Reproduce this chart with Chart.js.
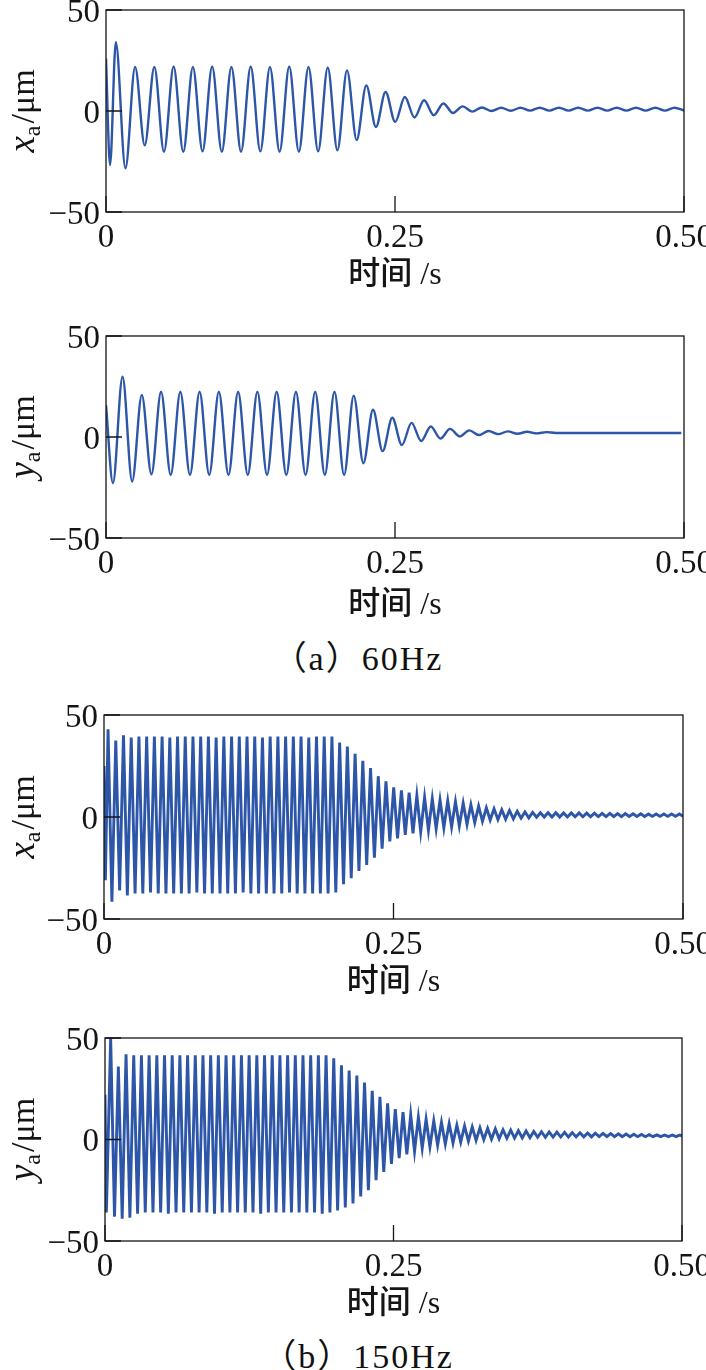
<!DOCTYPE html>
<html>
<head>
<meta charset="utf-8">
<script src="https://cdn.jsdelivr.net/npm/chart.js@4.4.1/dist/chart.umd.min.js"></script>
<style>
  body { margin: 0; background: #fff; width: 706px; height: 1370px; overflow: hidden; position: relative; }
  canvas { position: absolute; left: 0; }
  .cap { position: absolute; left: 0; width: 716px; text-align: center; color: #111; letter-spacing: 2px;
         font: 34px "Liberation Serif", "Noto Sans CJK SC"; line-height: 34px; }
</style>
</head>
<body>
<canvas id="c1" width="706" height="300" style="top:0px"></canvas>
<canvas id="c2" width="706" height="310" style="top:320px"></canvas>
<div class="cap" style="top:642px">（a）60Hz</div>
<canvas id="c3" width="706" height="320" style="top:690px"></canvas>
<canvas id="c4" width="706" height="310" style="top:1020px"></canvas>
<div class="cap" style="top:1340px">（b）150Hz</div>
<script>
// tick labels
const xTickLabels = ['0', '0.25', '0.50'];
const yTickLabels = ['\u221250', '0', '50'];
const xTitle = '时间 /s';

// 60 Hz, x_a: start-up points, then one extreme every half period (1/120 s)
const xa60LeadT = [0, 0.0035];
const xa60LeadV = [26, -26.8];
const xa60Start = 0.0085;
const xa60Step = 1 / 120;
const xa60Peaks = [
  34, -28.4, 21.8, -17, 21.8, -20.2, 22, -20.2, 21.8, -20,
  22, -20.2, 21.8, -20.2, 22, -20, 21.8, -20.2, 22, -20.2,
  21.8, -20, 21.5, -19.5, 20.1, -14.4, 12.7, -7.9, 9.4, -5.4,
  6.9, -3.2, 5.3, -2.1, 3.7, -1, 2.3, -0.3, 1.7, 0,
  1.6, 0.1, 1.6, 0.2, 1.6, 0.2, 1.6, 0.2, 1.6, 0.2,
  1.6, 0.2, 1.6, 0.2, 1.6, 0.2, 1.6, 0.2, 1.6, 0.2
];

// 60 Hz, y_a
const ya60LeadT = [0, 0.006];
const ya60LeadV = [15.8, -22.8];
const ya60Start = 0.0143;
const ya60Step = 1 / 120;
const ya60Peaks = [
  29.8, -22, 20.8, -18.5, 22.4, -18.8, 22.4, -18.8, 22.4, -18.8,
  22.4, -18.8, 22.4, -18.8, 22.4, -18.8, 22.4, -18.8, 22.4, -18.8,
  22.4, -18.8, 22.4, -18.8, 20.5, -13, 13.5, -7, 9.5, -4,
  7, -2, 5.2, -0.8, 4, 0.3, 3.3, 1, 3, 1.4,
  2.8, 1.6, 2.6, 1.8, 2.4, 2, 2, 2, 2, 2,
  2, 2, 2, 2, 2, 2, 2, 2, 2
];

// 150 Hz, x_a: one extreme every half period (1/300 s)
const xa150LeadT = [0, 0.0012];
const xa150LeadV = [25, -31];
const xa150Start = 0.0035;
const xa150Step = 1 / 300;
const xa150Peaks = [
  43, -41.5, 37.5, -36, 40, -38.5, 39, -37.5, 39.5, -37.5,
  39.5, -37, 39.5, -37.5, 39.5, -37.5, 39, -37.5, 39.5, -37.5,
  39.5, -37.5, 39.5, -37, 39.5, -37.5, 39.5, -37.5, 39, -37.5,
  39.5, -37.5, 39.5, -37.5, 39.5, -37, 39.5, -37.5, 39.5, -37.5,
  39, -37.5, 39.5, -37.5, 39.5, -37.5, 39.5, -37, 39.5, -37.5,
  39.5, -37.5, 39, -37.5, 39.5, -37.5, 39.5, -37.5, 39.5, -37,
  36.5, -33, 34.5, -30, 31, -26.5, 27.5, -23.5, 24, -20,
  20, -15.5, 17.5, -12, 14.5, -10.5, 13, -8.8, 12, -8,
  10.5, -7.3, 9.7, -6.5, 9, -5.8, 8.3, -5.3, 7.9, -4.9,
  7.5, -4.4, 6.8, -3.6, 6, -2.8, 5.3, -2.1, 4.5, -1.5,
  4, -1.3, 3.6, -1.1, 3.2, -0.9, 2.8, -0.6, 2.5, -0.4,
  2.3, -0.1, 2.1, 0, 2.1, 0, 2.1, 0, 2, 0,
  2, 0.1, 2, 0.1, 1.9, 0.1, 1.9, 0.2, 1.8, 0.2,
  1.8, 0.2, 1.7, 0.2, 1.7, 0.3, 1.6, 0.3, 1.6, 0.3,
  1.5, 0.3, 1.5, 0.3, 1.5, 0.3, 1.5, 0.3, 1.5, 0.3
];

// 150 Hz, y_a
const ya150LeadT = [0, 0.0012];
const ya150LeadV = [22, -36];
const ya150Start = 0.0049;
const ya150Step = 1 / 300;
const ya150Peaks = [
  50, -38, 36, -39, 42, -38.5, 41.5, -36.5, 41.5, -36,
  41.5, -36, 41.5, -36, 41.5, -36.5, 41.5, -36, 41.5, -36,
  41.5, -36, 41.5, -36, 41.5, -36, 41.5, -36.5, 41.5, -36,
  41.5, -36, 41.5, -36, 41.5, -36, 41.5, -36, 41.5, -36.5,
  41.5, -36, 41.5, -36, 41.5, -36, 41.5, -36, 41.5, -36,
  41.5, -36, 41.5, -36, 41.5, -36.5, 41.5, -36, 40, -35,
  36.5, -33.5, 34, -31.5, 31.5, -28, 28, -25, 24, -20,
  21, -16, 17.8, -12, 15, -9.2, 13.5, -7.3, 12.2, -5.8,
  11, -4.3, 10, -3.6, 9.2, -2.8, 8.5, -2.3, 7.8, -1.8,
  7, -1.3, 6.6, -0.8, 6.2, -0.4, 5.8, -0.1, 5.5, 0.1,
  5.2, 0.3, 4.8, 0.6, 4.6, 0.7, 4.4, 0.8, 4.2, 0.9,
  4, 1.1, 3.8, 1.1, 3.7, 1.2, 3.6, 1.2, 3.5, 1.2,
  3.4, 1.3, 3.3, 1.3, 3.2, 1.3, 3.1, 1.4, 3, 1.4,
  2.9, 1.4, 2.8, 1.4, 2.7, 1.4, 2.6, 1.4, 2.5, 1.4,
  2.4, 1.4, 2.3, 1.4, 2.2, 1.4, 2.2, 1.4, 2.2, 1.4
];

const lineColor = '#2d56a8';
const inkColor = '#151515';

// lead-in points plus evenly spaced extremes -> {x, y} points
function toPoints(leadT, leadV, start, step, peaks) {
  const pts = leadT.map((t, i) => ({ x: t, y: leadV[i] }));
  peaks.forEach((v, k) => pts.push({ x: start + k * step, y: v }));
  return pts;
}

// box, inward ticks and the y title (italic letter + subscript a)
const framePlugin = {
  id: 'frame',
  afterDatasetsDraw(chart, args, opts) {
    const { ctx, chartArea: a, scales: { x, y } } = chart;
    ctx.save();
    ctx.strokeStyle = inkColor;
    ctx.lineWidth = 1.3;
    ctx.strokeRect(a.left, a.top, a.right - a.left, a.bottom - a.top);
    ctx.beginPath();
    y.ticks.forEach(t => {
      const p = y.getPixelForValue(t.value);
      ctx.moveTo(a.left, p); ctx.lineTo(a.left + 16, p);
    });
    x.ticks.forEach(t => {
      const p = x.getPixelForValue(t.value);
      ctx.moveTo(p, a.bottom); ctx.lineTo(p, a.bottom - 16);
    });
    ctx.stroke();

    const cy = (a.top + a.bottom) / 2;
    ctx.translate(opts.titleX, cy);
    ctx.rotate(-Math.PI / 2);
    ctx.fillStyle = inkColor;
    ctx.textBaseline = 'alphabetic';
    const fVar = 'italic 37px "Liberation Serif"';
    const fSub = '24px "Liberation Serif"';
    const fUnit = '34px "Liberation Serif"';
    ctx.font = fVar; const w1 = ctx.measureText(opts.v).width;
    ctx.font = fSub; const w2 = ctx.measureText('a').width;
    ctx.font = fUnit; const w3 = ctx.measureText('/\u03bcm').width;
    let px = -(w1 + w2 + w3 + 2) / 2;
    ctx.font = fVar; ctx.fillText(opts.v, px, 0); px += w1;
    ctx.font = fSub; ctx.fillText('a', px, 6); px += w2 + 2;
    ctx.font = fUnit; ctx.fillText('/\u03bcm', px, 0);
    ctx.restore();
  }
};

function makePanel(id, g, v, pts, smooth) {
  const xh = g.canvasTop + g.h - g.bottom;
  const titlePad = g.canvasTop + g.h - g.title - 19.2;
  new Chart(document.getElementById(id), {
    type: 'line',
    data: {
      datasets: [{
        data: pts,
        borderColor: lineColor,
        borderWidth: smooth ? 2.4 : 2.9,
        pointRadius: 0,
        fill: false,
        tension: 0,
        cubicInterpolationMode: smooth ? 'monotone' : 'default'
      }]
    },
    options: {
      responsive: false,
      animation: false,
      devicePixelRatio: 1,
      layout: { padding: { top: g.top - g.canvasTop, right: 706 - g.right, left: 0, bottom: 0 } },
      plugins: {
        legend: { display: false },
        tooltip: { enabled: false },
        frame: { v: v, titleX: 34 }
      },
      scales: {
        x: {
          type: 'linear', min: 0, max: 0.5,
          grid: { display: false, drawTicks: false },
          border: { display: false },
          ticks: {
            stepSize: 0.25, padding: 7, maxRotation: 0, autoSkip: false, color: inkColor,
            font: { family: '"Liberation Serif"', size: 33 },
            callback: (val, i) => xTickLabels[i]
          },
          title: {
            display: true, text: xTitle, color: inkColor,
            font: { family: '"Liberation Serif", "Noto Sans CJK SC"', size: 32, weight: '500' },
            padding: { top: 0, bottom: titlePad }
          },
          afterFit: s => { s.height = xh; s.paddingLeft = 0; s.paddingRight = 0; }
        },
        y: {
          type: 'linear', min: -50, max: 50,
          grid: { display: false, drawTicks: false },
          border: { display: false },
          ticks: {
            stepSize: 50, padding: 6, labelOffset: 3, color: inkColor,
            font: { family: '"Liberation Serif"', size: 33 },
            callback: (val, i) => yTickLabels[i]
          },
          afterFit: s => { s.width = g.left; s.paddingTop = 0; s.paddingBottom = 0; }
        }
      }
    },
    plugins: [framePlugin]
  });
}

makePanel('c1', { canvasTop: 0, h: 300, top: 10, bottom: 212, left: 106, right: 684, title: 276 }, 'x',
  toPoints(xa60LeadT, xa60LeadV, xa60Start, xa60Step, xa60Peaks), true);
makePanel('c2', { canvasTop: 320, h: 310, top: 336, bottom: 538, left: 106, right: 684, title: 606 }, 'y',
  toPoints(ya60LeadT, ya60LeadV, ya60Start, ya60Step, ya60Peaks), true);
makePanel('c3', { canvasTop: 690, h: 320, top: 715, bottom: 919, left: 104, right: 683, title: 983 }, 'x',
  toPoints(xa150LeadT, xa150LeadV, xa150Start, xa150Step, xa150Peaks), false);
makePanel('c4', { canvasTop: 1020, h: 310, top: 1038, bottom: 1241, left: 105, right: 682, title: 1305 }, 'y',
  toPoints(ya150LeadT, ya150LeadV, ya150Start, ya150Step, ya150Peaks), false);
</script>
</body>
</html>
